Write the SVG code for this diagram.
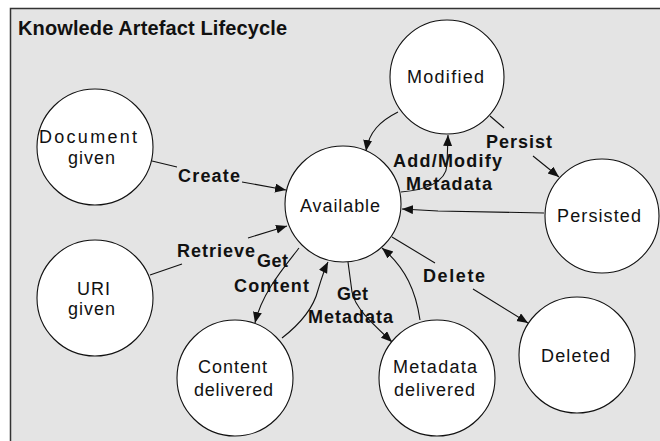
<svg xmlns="http://www.w3.org/2000/svg" width="660" height="441" viewBox="0 0 660 441">
  <style>
    .frame { fill: #e4e4e4; stroke: #333; stroke-width: 1.5; }
    .state { fill: #fff; stroke: #111; stroke-width: 1.1; }
    .name { font-family: "Liberation Sans", Arial, sans-serif; font-size: 18px; fill: #111; }
    .edge { fill: none; stroke: #111; stroke-width: 1.1; }
    .lbl { font-family: "Liberation Sans", Arial, sans-serif; font-size: 18px; font-weight: bold; fill: #111; }
    .title { font-family: "Liberation Sans", Arial, sans-serif; font-size: 20px; font-weight: bold; fill: #111; }
  </style>
  <defs>
    <marker id="arrow" markerUnits="userSpaceOnUse" markerWidth="12" markerHeight="10" refX="11" refY="4.5" orient="auto">
      <path d="M0,0 L11,4.5 L0,9 z" fill="#111"/>
    </marker>
  </defs>

  <rect width="660" height="441" fill="#fff"/>
  <rect class="frame" x="10.5" y="8.5" width="700" height="500"/>
  <text class="title" x="18" y="35" textLength="269" lengthAdjust="spacing">Knowlede Artefact Lifecycle</text>

  <g id="connectors">
    <!-- Create -->
    <path class="edge" marker-end="url(#arrow)" d="M152,161 L177,167 M242,182 L286,190"/>
    <!-- Retrieve -->
    <path class="edge" marker-end="url(#arrow)" d="M150,275 L182,264 M248,238 L287,226"/>
    <!-- Get Content -->
    <path class="edge" marker-end="url(#arrow)" d="M299,248 C286,265 262,292 255,323"/>
    <!-- content back to available -->
    <path class="edge" marker-end="url(#arrow)" d="M282,338 C304,321 314,306 318,290 C321,280 324,270 328,262"/>
    <!-- Get Metadata -->
    <path class="edge" marker-end="url(#arrow)" d="M348,262 L352,292 C355,308 372,323 392,342"/>
    <!-- metadata back to available -->
    <path class="edge" marker-end="url(#arrow)" d="M420,320 C416,292 406,268 382,248"/>
    <!-- Delete -->
    <path class="edge" marker-end="url(#arrow)" d="M392,237 L435,263 M473,289 L528,323"/>
    <!-- persisted back to available -->
    <path class="edge" marker-end="url(#arrow)" d="M544,213 L438,211 L402,209"/>
    <!-- Persist -->
    <path class="edge" marker-end="url(#arrow)" d="M490,116 L504,128 M533,156 L559,177"/>
    <!-- Add/Modify Metadata -->
    <path class="edge" marker-end="url(#arrow)" d="M401,192 C426,190 446,182 447,165 L448,135"/>
    <!-- modified back to available -->
    <path class="edge" marker-end="url(#arrow)" d="M398,112 C380,121 369,132 366,151"/>

    <text class="lbl" x="178" y="182" textLength="62" lengthAdjust="spacing">Create</text>
    <text class="lbl" x="177" y="257" textLength="78" lengthAdjust="spacing">Retrieve</text>
    <text class="lbl" x="257" y="267" textLength="31" lengthAdjust="spacing">Get</text>
    <text class="lbl" x="234" y="292" textLength="75" lengthAdjust="spacing">Content</text>
    <text class="lbl" x="337" y="300" textLength="31" lengthAdjust="spacing">Get</text>
    <text class="lbl" x="308" y="323" textLength="85" lengthAdjust="spacing">Metadata</text>
    <text class="lbl" x="423" y="282" textLength="62" lengthAdjust="spacing">Delete</text>
    <text class="lbl" x="486" y="148" textLength="66" lengthAdjust="spacing">Persist</text>
    <text class="lbl" x="393" y="167" textLength="109" lengthAdjust="spacing">Add/Modify</text>
    <text class="lbl" x="406" y="190" textLength="86" lengthAdjust="spacing">Metadata</text>
  </g>

  <g id="modified">
    <circle class="state" cx="447" cy="77" r="57"/>
    <text class="name" x="407" y="83" textLength="77" lengthAdjust="spacing">Modified</text>
  </g>
  <g id="document-given">
    <circle class="state" cx="95" cy="147" r="58"/>
    <text class="name" x="39" y="143" textLength="98" lengthAdjust="spacing">Document</text>
    <text class="name" x="68" y="164" textLength="47" lengthAdjust="spacing">given</text>
  </g>
  <g id="available">
    <circle class="state" cx="343" cy="204" r="58"/>
    <text class="name" x="300" y="212" textLength="80" lengthAdjust="spacing">Available</text>
  </g>
  <g id="persisted">
    <circle class="state" cx="602" cy="216" r="57"/>
    <text class="name" x="557" y="222" textLength="84" lengthAdjust="spacing">Persisted</text>
  </g>
  <g id="uri-given">
    <circle class="state" cx="95" cy="298" r="58"/>
    <text class="name" x="77" y="295" textLength="33" lengthAdjust="spacing">URI</text>
    <text class="name" x="68" y="315" textLength="47" lengthAdjust="spacing">given</text>
  </g>
  <g id="content-delivered">
    <circle class="state" cx="235" cy="378" r="58"/>
    <text class="name" x="198" y="373" textLength="69" lengthAdjust="spacing">Content</text>
    <text class="name" x="194" y="396" textLength="79" lengthAdjust="spacing">delivered</text>
  </g>
  <g id="metadata-delivered">
    <circle class="state" cx="437" cy="378" r="58"/>
    <text class="name" x="393" y="373" textLength="84" lengthAdjust="spacing">Metadata</text>
    <text class="name" x="394" y="396" textLength="81" lengthAdjust="spacing">delivered</text>
  </g>
  <g id="deleted">
    <circle class="state" cx="577" cy="355" r="58"/>
    <text class="name" x="541" y="362" textLength="69" lengthAdjust="spacing">Deleted</text>
  </g>
</svg>
